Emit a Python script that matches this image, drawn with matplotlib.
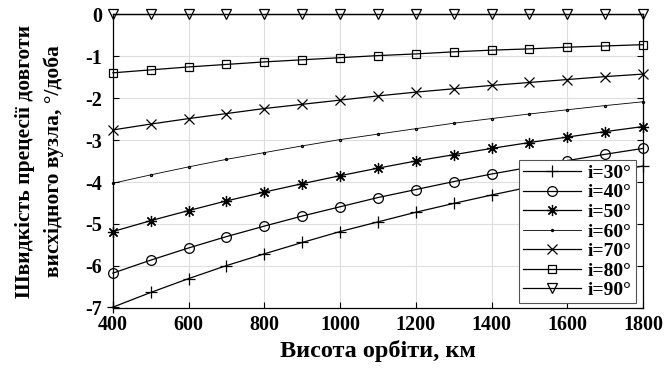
import matplotlib
matplotlib.use("Agg")
import matplotlib.pyplot as plt

heights = [400, 500, 600, 700, 800, 900, 1000, 1100, 1200, 1300, 1400, 1500, 1600, 1700, 1800]
labels = ["i=30°", "i=40°", "i=50°", "i=60°", "i=70°", "i=80°", "i=90°"]

i30 = [-6.98, -6.63, -6.30, -5.99, -5.71, -5.44, -5.18, -4.95, -4.72, -4.51, -4.31, -4.12, -3.94, -3.77, -3.62]
i40 = [-6.17, -5.86, -5.57, -5.30, -5.05, -4.81, -4.59, -4.37, -4.18, -3.99, -3.81, -3.65, -3.49, -3.34, -3.20]
i50 = [-5.18, -4.92, -4.68, -4.45, -4.24, -4.04, -3.85, -3.67, -3.50, -3.35, -3.20, -3.06, -2.93, -2.80, -2.68]
i60 = [-4.03, -3.83, -3.64, -3.46, -3.30, -3.14, -2.99, -2.86, -2.73, -2.60, -2.49, -2.38, -2.28, -2.18, -2.09]
i70 = [-2.76, -2.62, -2.49, -2.37, -2.25, -2.15, -2.05, -1.95, -1.86, -1.78, -1.70, -1.63, -1.56, -1.49, -1.43]
i80 = [-1.40, -1.33, -1.26, -1.20, -1.14, -1.09, -1.04, -0.99, -0.95, -0.90, -0.86, -0.83, -0.79, -0.76, -0.73]
i90 = [0.0, 0.0, 0.0, 0.0, 0.0, 0.0, 0.0, 0.0, 0.0, 0.0, 0.0, 0.0, 0.0, 0.0, 0.0]

series = [i30, i40, i50, i60, i70, i80, i90]
markers = ["+", "o", (8, 2, 0), ".", "x", "s", "v"]
msizes = [8, 7, 8, 3, 6.5, 6, 7]

plt.rcParams['font.family'] = ['Liberation Serif', 'DejaVu Serif']
plt.rcParams['font.weight'] = 'bold'
plt.rcParams['axes.unicode_minus'] = False

fig = plt.figure(figsize=(6.68, 3.74), dpi=100)
ax = fig.add_axes([0.169, 0.1765, 0.7936, 0.786])

for ys, lab, m, ms in zip(series, labels, markers, msizes):
    lw = 0.6 if m == "." else 0.9
    ax.plot(heights, ys, color='black', linewidth=lw, marker=m, markersize=ms,
            markerfacecolor='none', markeredgecolor='black', markeredgewidth=0.9,
            label=lab, clip_on=False, zorder=3)

ax.set_xlim(400, 1800)
ax.set_ylim(-7, 0)
ax.set_xticks(range(400, 1801, 200))
ax.set_yticks(range(-7, 1))
ax.grid(True, color='#dedede', linewidth=0.8)
ax.set_axisbelow(True)
ax.tick_params(direction='in', labelsize=14.5, length=4, top=False, right=True)
ax.tick_params(axis='y', pad=8)
ax.tick_params(axis='x', pad=5)
for lbl in ax.get_xticklabels() + ax.get_yticklabels():
    lbl.set_fontweight('bold')
for s in ax.spines.values():
    s.set_linewidth(0.9)

ax.set_xlabel("Висота орбіти, км", fontsize=17.5, fontweight='bold', labelpad=4)
ax.set_ylabel("Швидкість прецесії довготи\nвисхідного вузла, °/доба", fontsize=15.5,
              fontweight='bold', labelpad=15, linespacing=1.55)

leg = ax.legend(loc='lower right', bbox_to_anchor=(0.99, 0.01),
                prop={'weight': 'bold', 'size': 14}, handlelength=3.0,
                fancybox=False, edgecolor='#555555', framealpha=1,
                borderpad=0.2, labelspacing=0.1, handletextpad=0.35, borderaxespad=0.1)
leg.get_frame().set_linewidth(0.8)

fig.savefig("out.png", dpi=100)
